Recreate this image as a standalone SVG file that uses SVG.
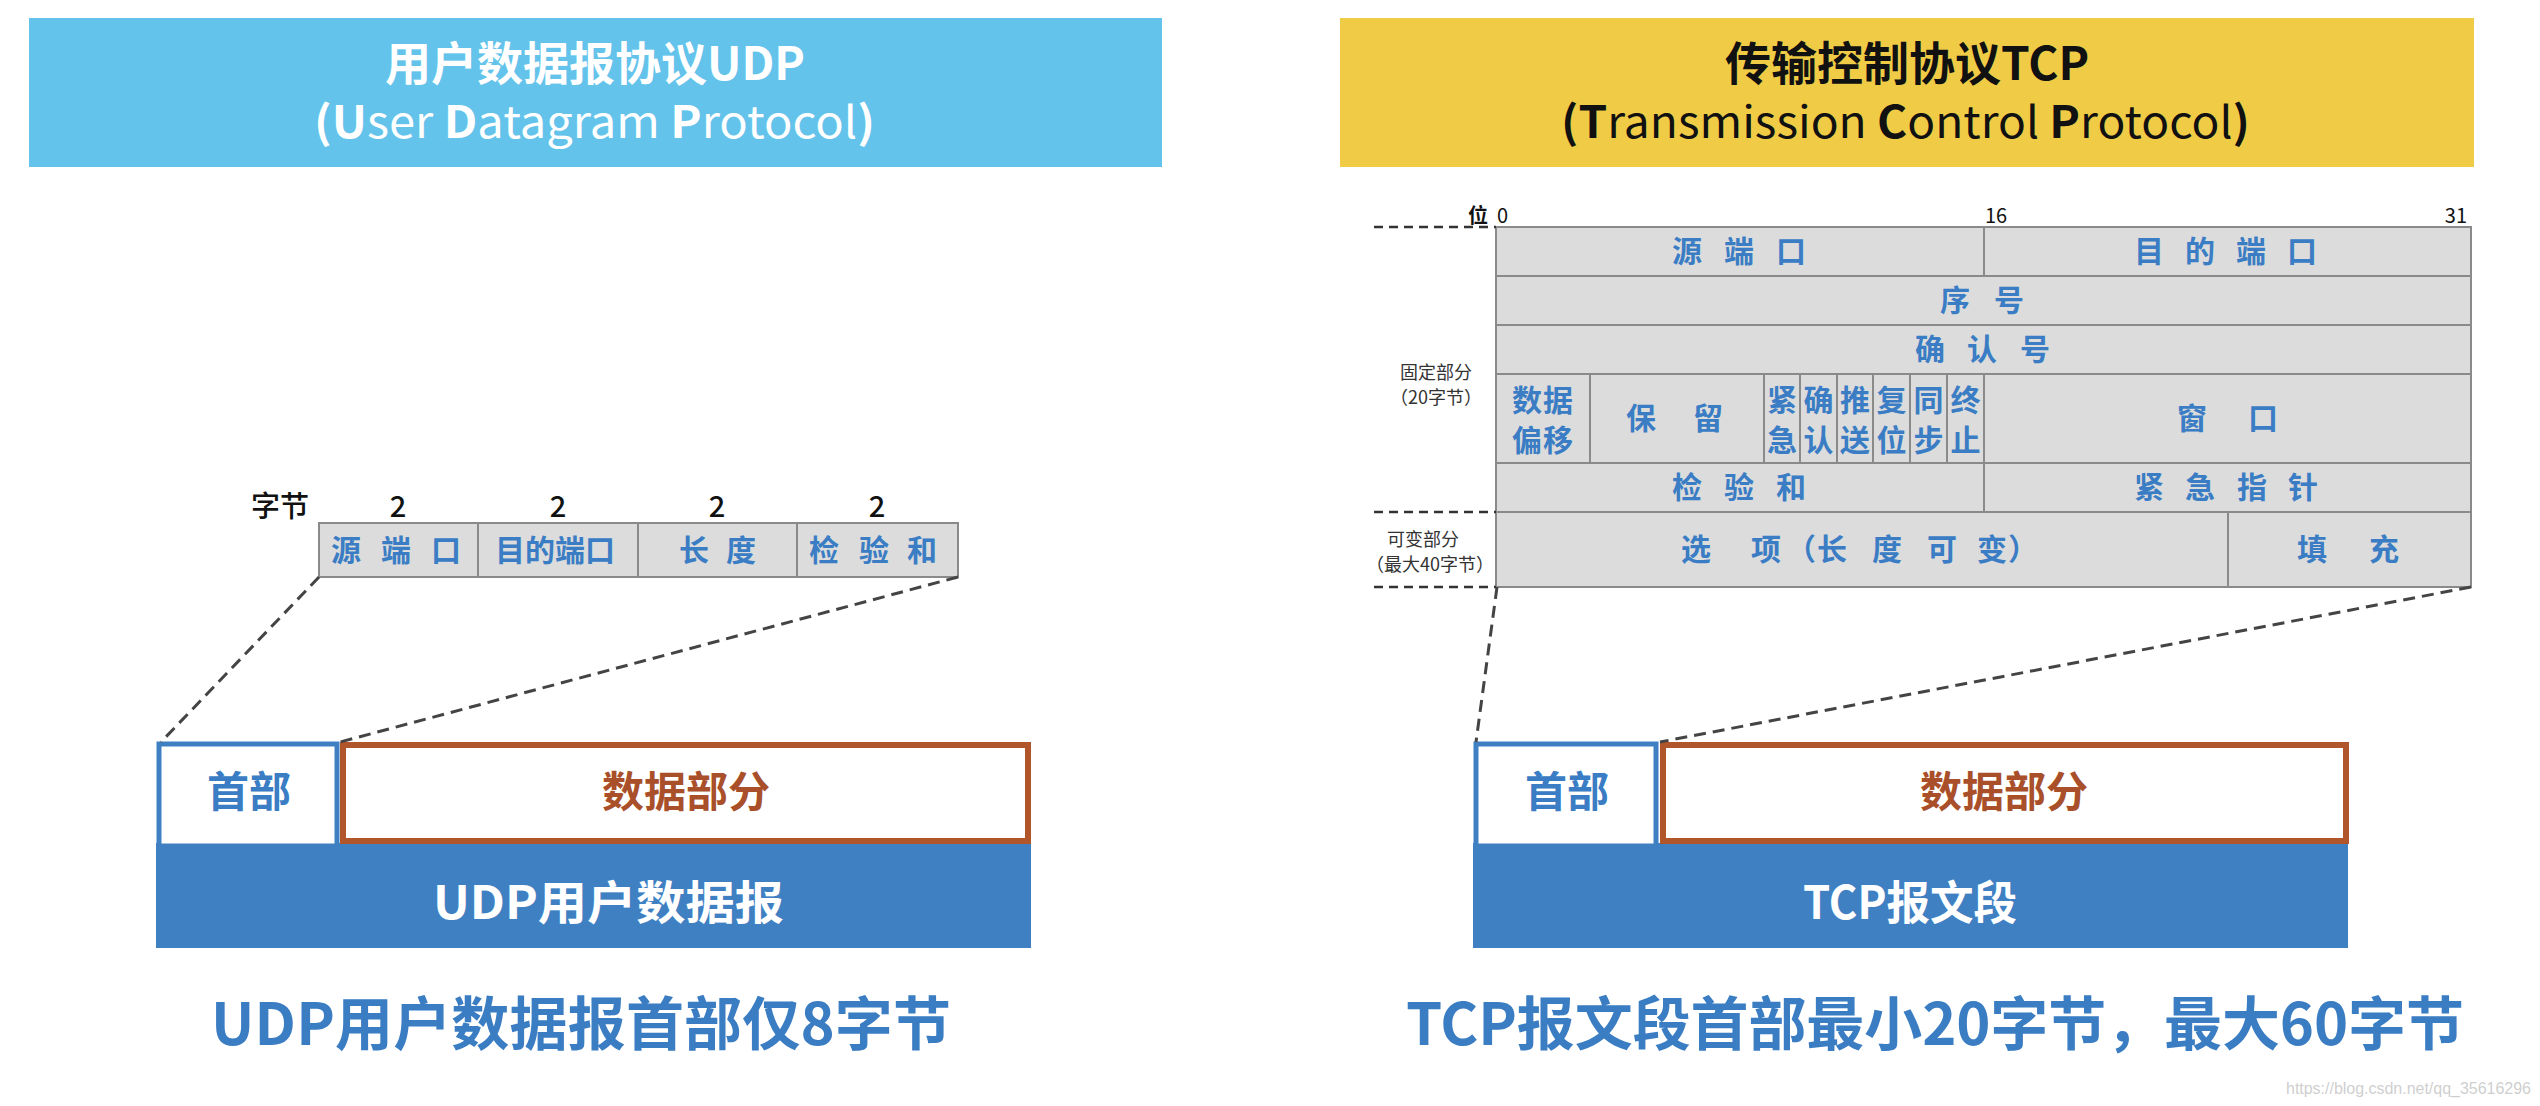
<svg xmlns="http://www.w3.org/2000/svg" width="2540" height="1106" viewBox="0 0 2540 1106">
<style>
text{font-family:"Noto Sans CJK SC","Noto Sans",sans-serif}
.ttl{font-size:46px;font-weight:700}
.sub{font-size:44px;font-weight:400}
.b{font-weight:700}
.cell{fill:#dcdcdc;stroke:#8a8a8a;stroke-width:2}
.ct{fill:#3a7dc4;font-size:30px;font-weight:700}
.blk{fill:#111;font-size:29px;font-weight:500}
.bit{fill:#111;font-size:20px}
.side{fill:#333;font-size:18px}
.hdr{fill:#fff;stroke:#3f80c3;stroke-width:5}
.dat{fill:#fff;stroke:#b1552a;stroke-width:6}
.bar{fill:#3f80c3}
.hdrt{fill:#3a7dc4;font-size:42px;font-weight:700}
.datt{fill:#a9502a;font-size:42px;font-weight:700}
.bart{fill:#fff;font-size:46px;font-weight:700}
.cap{fill:#3b7dc3;font-size:58px;font-weight:700}
.dash{stroke:#444;stroke-width:3;stroke-dasharray:12 7;fill:none}
.dash2{stroke:#333;stroke-width:2.5;stroke-dasharray:9 6;fill:none}
</style>
<rect width="2540" height="1106" fill="#fff"/>

<g id="udp-title">
<rect x="29" y="18" width="1133" height="149" fill="#64c3eb"/>
<text x="595" y="80" text-anchor="middle" class="ttl" fill="#fff">用户数据报协议UDP</text>
<text x="314" y="138" class="sub" fill="#fff" textLength="561" lengthAdjust="spacingAndGlyphs"><tspan class="b">(U</tspan>ser <tspan class="b">D</tspan>atagram <tspan class="b">P</tspan>rotocol<tspan class="b">)</tspan></text>
</g>

<g id="tcp-title">
<rect x="1340" y="18" width="1134" height="149" fill="#f0cc46"/>
<text x="1907" y="80" text-anchor="middle" class="ttl" fill="#111">传输控制协议TCP</text>
<text x="1561" y="138" class="sub" fill="#111" textLength="689" lengthAdjust="spacingAndGlyphs"><tspan class="b">(T</tspan>ransmission <tspan class="b">C</tspan>ontrol <tspan class="b">P</tspan>rotocol<tspan class="b">)</tspan></text>
</g>

<g id="udp-header-fields">
<text x="251" y="517" class="blk">字节</text>
<text x="398" y="517" text-anchor="middle" class="blk">2</text>
<text x="558" y="517" text-anchor="middle" class="blk">2</text>
<text x="717" y="517" text-anchor="middle" class="blk">2</text>
<text x="877" y="517" text-anchor="middle" class="blk">2</text>
<rect class="cell" x="319" y="523" width="159" height="54"/>
<rect class="cell" x="478" y="523" width="160" height="54"/>
<rect class="cell" x="638" y="523" width="159" height="54"/>
<rect class="cell" x="797" y="523" width="161" height="54"/>
<text class="ct" x="331 381 431" y="561">源端口</text>
<text class="ct" x="495" y="561">目的端口</text>
<text class="ct" x="679 726" y="561">长度</text>
<text class="ct" x="809 859 907" y="561">检验和</text>
</g>

<g id="udp-datagram">
<rect class="bar" x="156" y="843" width="875" height="105"/>
<rect class="hdr" x="159" y="744" width="178" height="102"/>
<rect class="dat" x="343" y="745" width="685" height="96"/>
<text x="249" y="807" text-anchor="middle" class="hdrt">首部</text>
<text x="686" y="807" text-anchor="middle" class="datt">数据部分</text>
<text x="433" y="919" class="bart" textLength="351" lengthAdjust="spacingAndGlyphs">UDP用户数据报</text>
</g>

<g id="udp-caption">
<text x="211" y="1045" class="cap" textLength="740" lengthAdjust="spacing">UDP用户数据报首部仅8字节</text>
</g>

<g id="tcp-header-fields">
<text x="1468" y="223" class="bit" font-weight="700" font-size="22">位</text>
<text x="1497" y="223" class="bit">0</text>
<text x="1985" y="223" class="bit">16</text>
<text x="2467" y="223" class="bit" text-anchor="end">31</text>
<rect class="cell" x="1496" y="227" width="488" height="49"/>
<rect class="cell" x="1984" y="227" width="487" height="49"/>
<rect class="cell" x="1496" y="276" width="975" height="49"/>
<rect class="cell" x="1496" y="325" width="975" height="49"/>
<rect class="cell" x="1496" y="374" width="94" height="89"/>
<rect class="cell" x="1590" y="374" width="174" height="89"/>
<rect class="cell" x="1764" y="374" width="36" height="89"/>
<rect class="cell" x="1800" y="374" width="37" height="89"/>
<rect class="cell" x="1837" y="374" width="36" height="89"/>
<rect class="cell" x="1873" y="374" width="37" height="89"/>
<rect class="cell" x="1910" y="374" width="37" height="89"/>
<rect class="cell" x="1947" y="374" width="37" height="89"/>
<rect class="cell" x="1984" y="374" width="487" height="89"/>
<rect class="cell" x="1496" y="463" width="488" height="49"/>
<rect class="cell" x="1984" y="463" width="487" height="49"/>
<rect class="cell" x="1496" y="512" width="732" height="75"/>
<rect class="cell" x="2228" y="512" width="243" height="75"/>
<text class="ct" x="1672 1724 1776" y="262">源端口</text>
<text class="ct" x="2134 2185 2236 2287" y="262">目的端口</text>
<text class="ct" x="1940 1994" y="311">序号</text>
<text class="ct" x="1915 1967 2020" y="360">确认号</text>
<text class="ct" x="1512 1543" y="411">数据</text>
<text class="ct" x="1512 1543" y="451">偏移</text>
<text class="ct" x="1626 1693" y="429">保留</text>
<g class="ct" text-anchor="middle">
<text x="1782" y="411">紧</text><text x="1782" y="451">急</text>
<text x="1818.5" y="411">确</text><text x="1818.5" y="451">认</text>
<text x="1855" y="411">推</text><text x="1855" y="451">送</text>
<text x="1891.5" y="411">复</text><text x="1891.5" y="451">位</text>
<text x="1928.5" y="411">同</text><text x="1928.5" y="451">步</text>
<text x="1965.5" y="411">终</text><text x="1965.5" y="451">止</text>
</g>
<text class="ct" x="2177 2248" y="429">窗口</text>
<text class="ct" x="1672 1724 1776" y="498">检验和</text>
<text class="ct" x="2134 2185 2237 2288" y="498">紧急指针</text>
<text class="ct" x="1681 1751 1786 1817 1872 1927 1977 2008" y="560">选项（长度可变）</text>
<text class="ct" x="2297 2369" y="560">填充</text>
<text x="1436" y="379" text-anchor="middle" class="side">固定部分</text>
<text x="1436" y="404" text-anchor="middle" class="side">（20字节）</text>
<text x="1423" y="546" text-anchor="middle" class="side">可变部分</text>
<text x="1430" y="571" text-anchor="middle" class="side">（最大40字节）</text>
</g>

<g id="tcp-segment">
<rect class="bar" x="1473" y="843" width="875" height="105"/>
<rect class="hdr" x="1476" y="744" width="180" height="102"/>
<rect class="dat" x="1663" y="745" width="683" height="96"/>
<text x="1567" y="807" text-anchor="middle" class="hdrt">首部</text>
<text x="2004" y="807" text-anchor="middle" class="datt">数据部分</text>
<text x="1803" y="919" class="bart" textLength="214" lengthAdjust="spacingAndGlyphs">TCP报文段</text>
</g>

<g id="tcp-caption">
<text x="1406" y="1045" class="cap" textLength="1058" lengthAdjust="spacing">TCP报文段首部最小20字节，最大60字节</text>
</g>

<g id="connectors">
<line class="dash" x1="319" y1="577" x2="161" y2="742"/>
<line class="dash" x1="958" y1="577" x2="340" y2="742"/>
<line class="dash2" x1="1374" y1="227" x2="1496" y2="227"/>
<line class="dash2" x1="1374" y1="512" x2="1496" y2="512"/>
<line class="dash2" x1="1374" y1="587" x2="1496" y2="587"/>
<line class="dash" x1="1497" y1="587" x2="1476" y2="742"/>
<line class="dash" x1="2471" y1="587" x2="1660" y2="742"/>
</g>

<text x="2286" y="1094" fill="#cfcfcf" font-size="16" textLength="245" style="font-family:'Liberation Sans',sans-serif">https://blog.csdn.net/qq_35616296</text>
</svg>
